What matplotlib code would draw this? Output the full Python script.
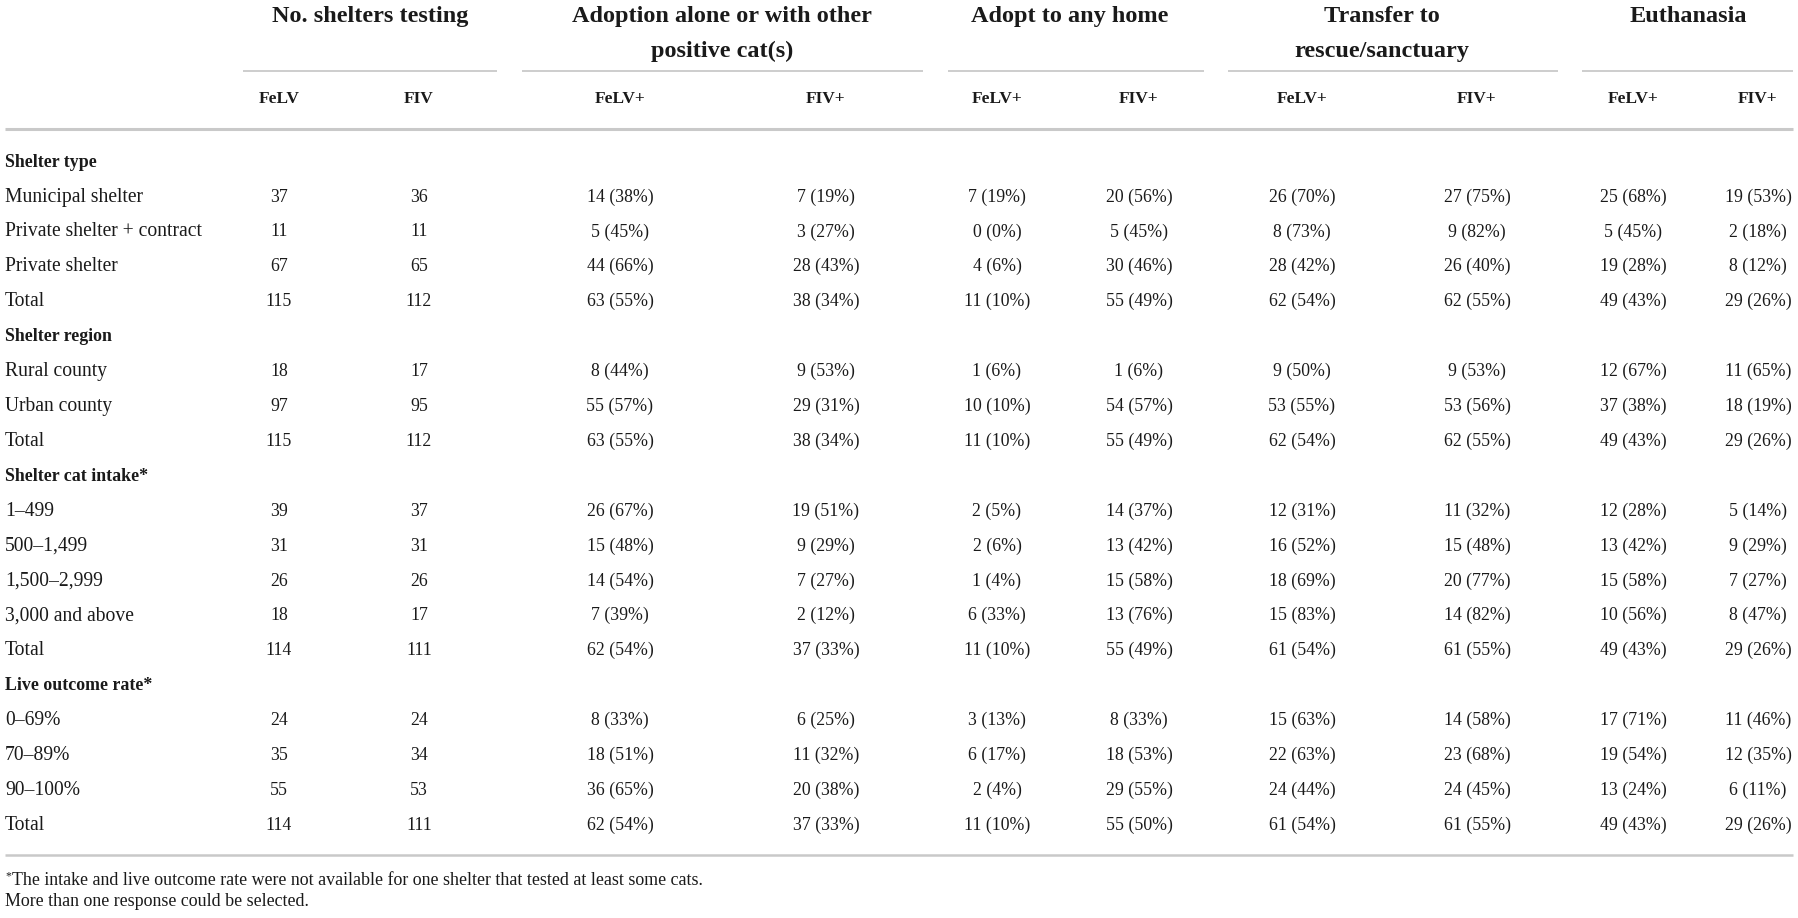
"""
Outcomes for FeLV+ / FIV+ cats by shelter characteristics (table figure)
"""
import matplotlib
matplotlib.use('Agg')
import matplotlib.pyplot as plt


# Row structure
SECTIONS = ['Shelter type', 'Shelter region', 'Shelter cat intake*', 'Live outcome rate*']
SECTION_SIZES = [4, 3, 5, 4]
ROW_LABELS = ['Municipal shelter', 'Private shelter + contract', 'Private shelter', 'Total',
              'Rural county', 'Urban county', 'Total',
              '1\u2013499', '500\u20131,499', '1,500\u20132,999', '3,000 and above', 'Total',
              '0\u201369%', '70\u201389%', '90\u2013100%', 'Total']

# Column headers
GROUPS = [['No. shelters testing'], ['Adoption alone or with other', 'positive cat(s)'],
          ['Adopt to any home'], ['Transfer to', 'rescue/sanctuary'], ['Euthanasia']]
SUBHEADS = ['FeLV', 'FIV', 'FeLV+', 'FIV+', 'FeLV+', 'FIV+', 'FeLV+', 'FIV+', 'FeLV+', 'FIV+']

# No. shelters testing
felv_tested = [37, 11, 67, 115, 18, 97, 115, 39, 31, 26, 18, 114, 24, 35, 55, 114]
fiv_tested = [36, 11, 65, 112, 17, 95, 112, 37, 31, 26, 17, 111, 24, 34, 53, 111]

# Adoption alone or with other positive cat(s)
alone_felv_n = [14, 5, 44, 63, 8, 55, 63, 26, 15, 14, 7, 62, 8, 18, 36, 62]
alone_felv_pct = [38, 45, 66, 55, 44, 57, 55, 67, 48, 54, 39, 54, 33, 51, 65, 54]
alone_fiv_n = [7, 3, 28, 38, 9, 29, 38, 19, 9, 7, 2, 37, 6, 11, 20, 37]
alone_fiv_pct = [19, 27, 43, 34, 53, 31, 34, 51, 29, 27, 12, 33, 25, 32, 38, 33]

# Adopt to any home
any_felv_n = [7, 0, 4, 11, 1, 10, 11, 2, 2, 1, 6, 11, 3, 6, 2, 11]
any_felv_pct = [19, 0, 6, 10, 6, 10, 10, 5, 6, 4, 33, 10, 13, 17, 4, 10]
any_fiv_n = [20, 5, 30, 55, 1, 54, 55, 14, 13, 15, 13, 55, 8, 18, 29, 55]
any_fiv_pct = [56, 45, 46, 49, 6, 57, 49, 37, 42, 58, 76, 49, 33, 53, 55, 50]

# Transfer to rescue/sanctuary
transfer_felv_n = [26, 8, 28, 62, 9, 53, 62, 12, 16, 18, 15, 61, 15, 22, 24, 61]
transfer_felv_pct = [70, 73, 42, 54, 50, 55, 54, 31, 52, 69, 83, 54, 63, 63, 44, 54]
transfer_fiv_n = [27, 9, 26, 62, 9, 53, 62, 11, 15, 20, 14, 61, 14, 23, 24, 61]
transfer_fiv_pct = [75, 82, 40, 55, 53, 56, 55, 32, 48, 77, 82, 55, 58, 68, 45, 55]

# Euthanasia
euth_felv_n = [25, 5, 19, 49, 12, 37, 49, 12, 13, 15, 10, 49, 17, 19, 13, 49]
euth_felv_pct = [68, 45, 28, 43, 67, 38, 43, 28, 42, 58, 56, 43, 71, 54, 24, 43]
euth_fiv_n = [19, 2, 8, 29, 11, 18, 29, 5, 9, 7, 8, 29, 11, 12, 6, 29]
euth_fiv_pct = [53, 18, 12, 26, 65, 19, 26, 14, 29, 27, 47, 26, 46, 35, 11, 26]

FOOTNOTES = ['The intake and live outcome rate were not available for one shelter that tested at least some cats.',
             'More than one response could be selected.']


def fmt(n, p):
    return [f'{a} ({b}%)' for a, b in zip(n, p)]


columns = [
    [str(v) for v in felv_tested],
    [str(v) for v in fiv_tested],
    fmt(alone_felv_n, alone_felv_pct),
    fmt(alone_fiv_n, alone_fiv_pct),
    fmt(any_felv_n, any_felv_pct),
    fmt(any_fiv_n, any_fiv_pct),
    fmt(transfer_felv_n, transfer_felv_pct),
    fmt(transfer_fiv_n, transfer_fiv_pct),
    fmt(euth_felv_n, euth_felv_pct),
    fmt(euth_fiv_n, euth_fiv_pct),
]

# layout (pixels, y from top; text positions are baselines)
W, H = 1798, 918
COL_X = [279, 419, 620, 826, 997, 1139, 1302, 1477, 1633, 1758]
GROUP_SPAN = [(243, 497), (522, 923), (948, 1204), (1228, 1558), (1582, 1793)]
GROUP_X = [370, 722, 1070, 1382, 1688]
LEFT = 5
ROW0 = 160 + 6.7
ROW_STEP = 34.9
TXT = '#1a1a1a'
LINE = '#c9c9c9'

plt.rcParams['font.family'] = ['Liberation Serif', 'DejaVu Serif']

fig = plt.figure(figsize=(W / 100, H / 100), dpi=100)
ax = fig.add_axes([0, 0, 1, 1])
ax.set_xlim(0, W)
ax.set_ylim(H, 0)
ax.axis('off')

# group headers
for (x0, x1), gx, lines in zip(GROUP_SPAN, GROUP_X, GROUPS):
    for i, s in enumerate(lines):
        ax.text(gx, 22 + i * 35, s, ha='center', va='baseline', fontsize=17.5,
                fontweight='bold', color=TXT)
    ax.plot([x0, x1], [71, 71], color=LINE, lw=1.3, solid_capstyle='butt')

for x, s in zip(COL_X, SUBHEADS):
    ax.text(x, 103, s, ha='center', va='baseline', fontsize=12.5, fontweight='bold', color=TXT)

ax.plot([LEFT, 1793], [129, 129], color=LINE, lw=2.2, solid_capstyle='butt')

# body
r = 0
k = 0
for title, size in zip(SECTIONS, SECTION_SIZES):
    y = ROW0 + r * ROW_STEP
    ax.text(LEFT, y, title, ha='left', va='baseline', fontsize=12.9, fontweight='bold', color=TXT)
    r += 1
    for _ in range(size):
        y = ROW0 + r * ROW_STEP
        ax.text(LEFT, y, ROW_LABELS[k], ha='left', va='baseline', fontsize=14.1, color=TXT)
        for x, col in zip(COL_X, columns):
            ax.text(x, y, col[k], ha='center', va='baseline', fontsize=12.8, color=TXT)
        r += 1
        k += 1

ax.plot([LEFT, 1793], [855, 855], color=LINE, lw=1.8, solid_capstyle='butt')

# footnotes
ax.text(LEFT, 879, '*', ha='left', va='baseline', fontsize=8.5, color=TXT)
ax.text(LEFT + 7, 885, FOOTNOTES[0], ha='left', va='baseline', fontsize=12.9, color=TXT)
ax.text(LEFT, 906, FOOTNOTES[1], ha='left', va='baseline', fontsize=12.9, color=TXT)

fig.savefig('out.png', dpi=100, facecolor='white')
